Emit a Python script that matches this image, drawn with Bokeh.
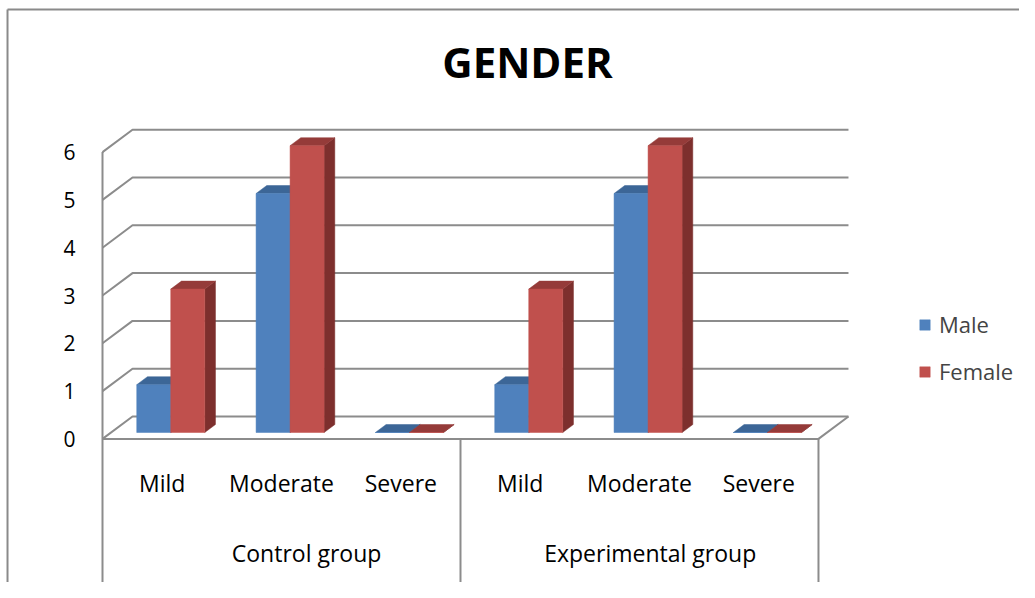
from bokeh.plotting import figure
from bokeh.models import ColumnDataSource, Range1d, Legend, LegendItem
from bokeh.core.properties import value
from bokeh.embed import file_html
from bokeh.resources import INLINE

# ---------------- data ----------------
groups = ["Control group", "Experimental group"]
levels = ["Mild", "Moderate", "Severe"]
male = [1, 5, 0, 1, 5, 0]
female = [3, 6, 0, 3, 6, 0]
y_ticks = [0, 1, 2, 3, 4, 5, 6]
series_names = ["Male", "Female"]

# ---------------- style / geometry ----------------
FONT = value("Open Sans")
BLUE, BLUE_TOP, BLUE_SIDE = "#4F81BD", "#3C6697", "#345985"
RED, RED_TOP, RED_SIDE = "#C0504D", "#953B39", "#7D2F2D"
GRID = "#8c8c8c"
DX, DY = 0.2514, 0.4686      # depth of the back wall in data units
Z0, Z1 = 0.286, 0.643        # depth band where bars stand
BAR_W = 0.285
BOTTOM = -3.067              # lower end of category separator lines
n = len(male)
n_group = len(levels)

p = figure(width=1019, height=582, output_backend="svg", toolbar_location=None,
           x_range=Range1d(-0.8548, 7.6846), y_range=Range1d(-3.004, 9.172),
           x_axis_location=None, y_axis_location=None, min_border=0)
p.grid.visible = False
p.outline_line_color = None
p.background_fill_color = "white"

# chart border (top + left)
xr0, xr1 = p.x_range.start, p.x_range.end
yr0, yr1 = p.y_range.start, p.y_range.end
p.multi_line(xs=[[-0.796, xr1], [-0.796, -0.796]],
             ys=[[8.983, 8.983], [8.983, yr0]],
             line_color="#8a8a8a", line_width=2)

# back wall gridlines and left depth connectors
gx, gy = [], []
for v in y_ticks:
    gx.append([0, DX, n + DX]); gy.append([v, v + DY, v + DY])
p.multi_line(xs=gx, ys=gy, line_color=GRID, line_width=2)

# floor edges, front axis line and category separators
sep_x = [0] + [(g + 1) * n_group for g in range(len(groups))]
lx = [[0, n, n + DX], [0, 0]]
ly = [[0, 0, DY], [max(y_ticks), BOTTOM]]
for sx in sep_x[1:]:
    lx.append([sx, sx]); ly.append([0, BOTTOM])
p.multi_line(xs=lx, ys=ly, line_color=GRID, line_width=2)

# ---------------- 3D bars ----------------
ddx, ddy = (Z1 - Z0) * DX, (Z1 - Z0) * DY
base = Z0 * DY

def faces(vals, offset):
    left, right, top, bot = [], [], [], []
    tx, ty, sxs, sys_ = [], [], [], []
    for i, v in enumerate(vals):
        cx = i + 0.5 + Z0 * DX
        l = cx + offset
        r = l + BAR_W
        t = v + base
        left.append(l); right.append(r); top.append(t); bot.append(base)
        tx.append([l, r, r + ddx, l + ddx]); ty.append([t, t, t + ddy, t + ddy])
        sxs.append([r, r, r + ddx, r + ddx]); sys_.append([base, t, t + ddy, base + ddy])
    return (ColumnDataSource(dict(left=left, right=right, top=top, bottom=bot)),
            ColumnDataSource(dict(xs=tx, ys=ty)), ColumnDataSource(dict(xs=sxs, ys=sys_)))

renderers = []
for vals, off, cf, ct, cs in [(male, -BAR_W, BLUE, BLUE_TOP, BLUE_SIDE),
                              (female, 0.0, RED, RED_TOP, RED_SIDE)]:
    front, topf, side = faces(vals, off)
    p.patches("xs", "ys", source=side, fill_color=cs, line_color=cs, line_width=0.5)
    p.patches("xs", "ys", source=topf, fill_color=ct, line_color=ct, line_width=0.5)
    r = p.quad(left="left", right="right", top="top", bottom="bottom", source=front,
               fill_color=cf, line_color=cf, line_width=0.5)
    renderers.append(r)

# ---------------- texts ----------------
p.text(x=[-0.226] * len(y_ticks), y=y_ticks, text=[str(v) for v in y_ticks],
       text_font=FONT, text_font_size="21px", text_align="right",
       text_baseline="middle", text_color="#000000")

cat_x = [i + 0.5 for i in range(n)]
cat_t = levels * len(groups)
p.text(x=cat_x, y=[-0.912] * n, text=cat_t, text_font=FONT, text_font_size="23px",
       text_align="center", text_baseline="middle", text_color="#000000")

p.text(x=[1.71, 4.59], y=[-2.397, -2.397], text=groups, text_font=FONT,
       text_font_size="23px", text_align="center", text_baseline="middle",
       text_color="#000000")

p.text(x=[3.561], y=[7.895], text=["GENDER"], text_font=FONT, text_font_size="42px",
       text_font_style="bold", text_align="center", text_baseline="middle",
       text_color="#000000")

legend = Legend(items=[LegendItem(label=series_names[k], renderers=[renderers[k]])
                       for k in range(2)],
                location=(918, 196), glyph_width=13, glyph_height=13,
                label_text_font="Open Sans", label_text_font_size="22px",
                label_standoff=8, spacing=17, padding=0, margin=0,
                border_line_color=None, background_fill_alpha=0)
p.add_layout(legend)

open("out.html", "w").write(file_html(p, INLINE))
